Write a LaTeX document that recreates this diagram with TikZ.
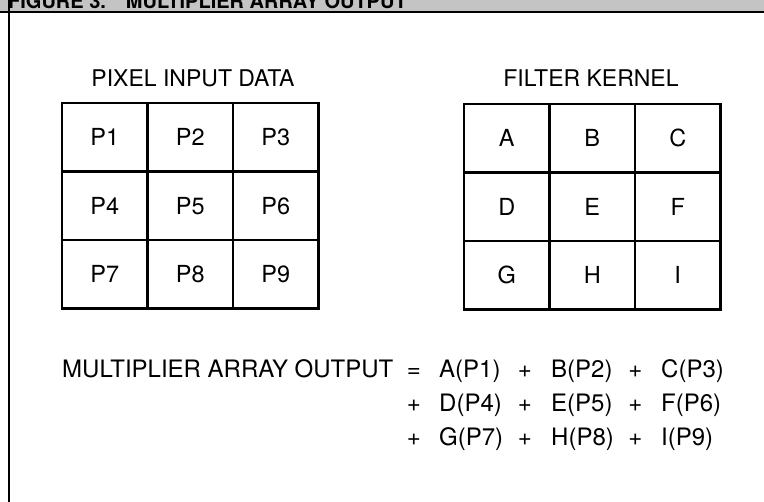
\documentclass[tikz,border=0pt]{standalone}
\usepackage{fontspec}
\setmainfont{TeX Gyre Heros}
\usepackage{tikz}
\usetikzlibrary{positioning}
\definecolor{Band}{HTML}{C4C4C4}
\tikzset{
cellbox/.style={draw=black, line width=2.4pt, minimum width=85.5pt, minimum height=68.5pt, inner sep=0pt, font=\fontsize{23.5}{27}\selectfont},
titletext/.style={anchor=base, inner sep=0pt, font=\fontsize{23}{27}\selectfont},
eqterm/.style={anchor=base west, inner sep=0pt, font=\fontsize{24}{28}\selectfont},
eqop/.style={anchor=base, inner sep=0pt, font=\fontsize{24}{28}\selectfont},
framerule/.style={draw=black, line width=2.4pt}
}
\begin{document}
\begin{tikzpicture}[x=1pt, y=-1pt]
  \useasboundingbox (0,0) rectangle (764,502);
  % header band, top cut off
  \fill[Band] (0,0) rectangle (764,12);
  \begin{scope}
    \clip (0,0) rectangle (764,11);
    \node[anchor=base west, inner sep=0pt, font=\bfseries\fontsize{20}{23}\selectfont] (head) at (8,9) {FIGURE 3.\quad MULTIPLIER ARRAY OUTPUT};
  \end{scope}
  \draw[framerule] (0,12.2) -- (764,12.2);
  \draw[framerule] (9,0) -- (9,502);
  % pixel input data
  \node[titletext] (pixtitle) at (193,87) {PIXEL INPUT DATA};
  \node[cellbox] (p1) at (104.75,137.25) {P1};
  \node[cellbox] (p2) at (190.25,137.25) {P2};
  \node[cellbox] (p3) at (275.75,137.25) {P3};
  \node[cellbox] (p4) at (104.75,205.75) {P4};
  \node[cellbox] (p5) at (190.25,205.75) {P5};
  \node[cellbox] (p6) at (275.75,205.75) {P6};
  \node[cellbox] (p7) at (104.75,274.25) {P7};
  \node[cellbox] (p8) at (190.25,274.25) {P8};
  \node[cellbox] (p9) at (275.75,274.25) {P9};
  % filter kernel
  \node[titletext] (kertitle) at (591,87) {FILTER KERNEL};
  \node[cellbox] (ka) at (506.75,138.25) {A};
  \node[cellbox] (kb) at (592.25,138.25) {B};
  \node[cellbox] (kc) at (677.75,138.25) {C};
  \node[cellbox] (kd) at (506.75,206.75) {D};
  \node[cellbox] (ke) at (592.25,206.75) {E};
  \node[cellbox] (kf) at (677.75,206.75) {F};
  \node[cellbox] (kg) at (506.75,275.25) {G};
  \node[cellbox] (kh) at (592.25,275.25) {H};
  \node[cellbox] (ki) at (677.75,275.25) {I};
  % output sum
  \node[eqterm] (outlabel) at (62,378) {MULTIPLIER ARRAY OUTPUT};
  \node[eqop] (eqsign) at (414,378) {=};
  \node[eqterm] (ta) at (439,378) {A(P1)};
  \node[eqop] (opab) at (525,378) {+};
  \node[eqterm] (tb) at (551,378) {B(P2)};
  \node[eqop] (opbc) at (635.5,378) {+};
  \node[eqterm] (tc) at (661,378) {C(P3)};
  \node[eqop] (opd) at (414,412) {+};
  \node[eqterm] (td) at (439,412) {D(P4)};
  \node[eqop] (opde) at (525,412) {+};
  \node[eqterm] (te) at (551,412) {E(P5)};
  \node[eqop] (opef) at (635.5,412) {+};
  \node[eqterm] (tf) at (661,412) {F(P6)};
  \node[eqop] (opg) at (414,446) {+};
  \node[eqterm] (tg) at (439,446) {G(P7)};
  \node[eqop] (opgh) at (525,446) {+};
  \node[eqterm] (th) at (551,446) {H(P8)};
  \node[eqop] (ophi) at (635.5,446) {+};
  \node[eqterm] (ti) at (661,446) {I(P9)};
\end{tikzpicture}
\end{document}
